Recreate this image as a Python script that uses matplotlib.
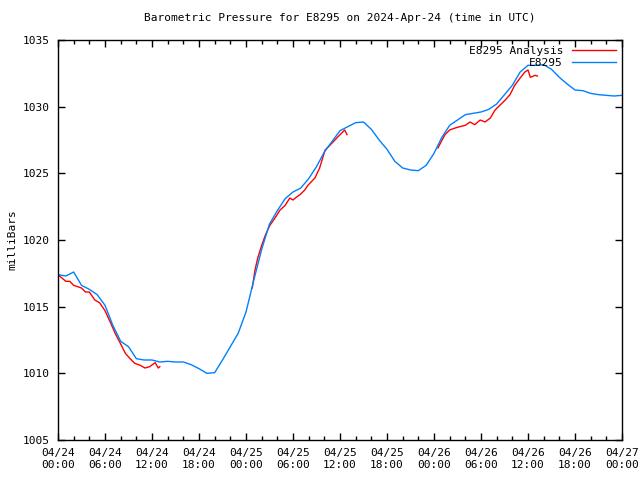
import matplotlib
matplotlib.use('Agg')
import matplotlib.pyplot as plt

plt.rcParams['font.family'] = 'DejaVu Sans Mono'

# hours since 2024-04-24 00:00 UTC
obs_hours = list(range(73))
obs_press = [1017.4, 1017.3, 1017.6, 1016.6, 1016.3, 1015.9, 1015.1, 1013.6, 1012.4, 1012.0,
             1011.1, 1011.0, 1011.0, 1010.85, 1010.9, 1010.85, 1010.85, 1010.65, 1010.35, 1010.0,
             1010.05, 1011.0, 1012.0, 1013.0, 1014.6, 1017.0, 1019.3, 1021.2, 1022.2, 1023.1,
             1023.6, 1023.9, 1024.6, 1025.5, 1026.6, 1027.4, 1028.2, 1028.5, 1028.8, 1028.85,
             1028.3, 1027.5, 1026.8, 1025.9, 1025.4, 1025.25, 1025.2, 1025.6, 1026.5, 1027.7,
             1028.6, 1029.0, 1029.4, 1029.5, 1029.6, 1029.8, 1030.2, 1030.9, 1031.6, 1032.6,
             1033.1, 1033.1, 1033.15, 1032.8, 1032.2, 1031.7, 1031.25, 1031.2, 1031.0, 1030.9,
             1030.85, 1030.8, 1030.85]

ana1_hours = [0, 0.6, 1, 1.5, 2, 3, 3.5, 4, 4.7, 5.3, 6, 6.7, 7.3, 8, 8.6, 9.2, 9.8,
              10.5, 11.1, 11.7, 12.4, 12.8, 13.0]
ana1_press = [1017.4, 1017.1, 1016.9, 1016.9, 1016.6, 1016.4, 1016.1, 1016.1, 1015.5, 1015.3,
              1014.7, 1013.8, 1013.0, 1012.2, 1011.5, 1011.1, 1010.75, 1010.6, 1010.4, 1010.5,
              1010.8, 1010.4, 1010.5]

ana2_hours = [24.8, 25.15, 25.5, 26.0, 26.5, 27.05, 27.7, 28.35, 29.0, 29.6, 30.0, 30.4,
              30.9, 31.5, 31.9, 32.8, 33.4, 34.1, 34.7, 35.35, 36.0, 36.6, 36.9]
ana2_press = [1016.4, 1017.75, 1018.65, 1019.6, 1020.4, 1021.1, 1021.65, 1022.25, 1022.6,
              1023.15, 1023.0, 1023.2, 1023.4, 1023.75, 1024.1, 1024.65, 1025.4, 1026.75,
              1027.1, 1027.5, 1027.9, 1028.25, 1027.9]

ana3_hours = [48.5, 48.9, 49.4, 50.0, 50.7, 51.3, 52.0, 52.6, 53.2, 53.9, 54.5, 55.2, 55.8,
              56.4, 57.1, 57.7, 58.3, 59.0, 59.6, 60.0, 60.3, 60.9, 61.2]
ana3_press = [1026.9, 1027.35, 1027.9, 1028.25, 1028.4, 1028.5, 1028.6, 1028.85, 1028.65,
              1029.0, 1028.85, 1029.15, 1029.75, 1030.1, 1030.5, 1030.9, 1031.6, 1032.15,
              1032.6, 1032.75, 1032.2, 1032.35, 1032.3]

tick_hours = list(range(0, 73, 6))
tick_labels = ['04/24\n00:00', '04/24\n06:00', '04/24\n12:00', '04/24\n18:00',
               '04/25\n00:00', '04/25\n06:00', '04/25\n12:00', '04/25\n18:00',
               '04/26\n00:00', '04/26\n06:00', '04/26\n12:00', '04/26\n18:00',
               '04/27\n00:00']
y_ticks = [1005, 1010, 1015, 1020, 1025, 1030, 1035]

fig = plt.figure(figsize=(6.4, 4.8), dpi=100)
ax = fig.add_axes([58/640, 40/480, 564/640, 400/480])

red = '#ff0000'
blue = '#0080ff'
ax.plot(ana1_hours, ana1_press, color=red, lw=1, label='E8295 Analysis')
ax.plot(ana2_hours, ana2_press, color=red, lw=1)
ax.plot(ana3_hours, ana3_press, color=red, lw=1)
ax.plot(obs_hours, obs_press, color=blue, lw=1, label='E8295')

ax.set_xlim(0, 72)
ax.set_ylim(1005, 1035)
ax.set_xticks(tick_hours)
ax.set_xticklabels(tick_labels, fontsize=8)
ax.set_xticks(list(range(0, 73, 2)), minor=True)
ax.set_yticks(y_ticks)
ax.set_yticklabels([str(v) for v in y_ticks], fontsize=8)
ax.tick_params(which='both', direction='in', top=True, right=True, width=1)
ax.tick_params(which='major', length=5, pad=6)
ax.tick_params(which='minor', length=3)
for s in ax.spines.values():
    s.set_linewidth(1)

ax.set_ylabel('milliBars', fontsize=8, labelpad=4)
ax.set_title('Barometric Pressure for E8295 on 2024-Apr-24 (time in UTC)', fontsize=8, pad=14)

leg = ax.legend(loc='upper right', frameon=False, markerfirst=False, fontsize=8,
                handlelength=4, borderaxespad=0.1, labelspacing=0.2, handletextpad=0.8)
for col in leg._legend_handle_box.get_children():
    col.align = 'right'

fig.savefig('out.png', dpi=100)
